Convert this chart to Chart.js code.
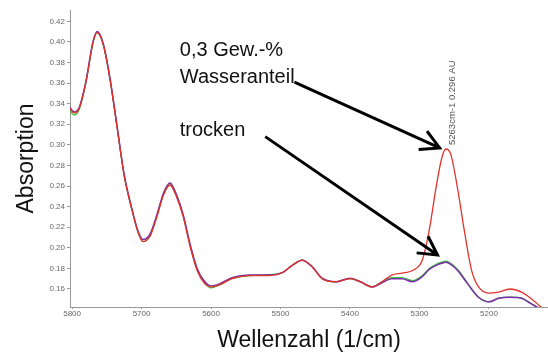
<!DOCTYPE html>
<html>
<head>
<meta charset="utf-8">
<script src="https://cdn.jsdelivr.net/npm/chart.js@4.4.1/dist/chart.umd.min.js"></script>
<style>
  html, body { margin: 0; padding: 0; background: #fff; }
</style>
</head>
<body>
<canvas id="spektrum" width="548" height="354"></canvas>
<script>
// Wellenzahlen (1/cm), absteigend wie im Spektrum
const wellenzahl = [5805, 5797, 5790, 5780, 5770, 5764, 5755, 5745, 5735, 5725, 5715, 5705, 5698, 5688, 5678, 5668, 5659, 5650, 5640, 5630,
    5620, 5610, 5600, 5588, 5570, 5545, 5515, 5497, 5483, 5469, 5455, 5440, 5420, 5400, 5385, 5368, 5354, 5340, 5325, 5310,
    5296, 5286, 5276, 5268, 5262, 5255, 5245, 5235, 5225, 5215, 5200, 5186, 5170, 5153, 5140, 5125, 5115];

// Absorption, trockene Probe (zwei Messungen)
const trocken = [0.338, 0.332, 0.336, 0.362, 0.400, 0.410, 0.398, 0.363, 0.317, 0.271, 0.241, 0.216, 0.208, 0.213, 0.232, 0.254, 0.263, 0.252, 0.232, 0.203,
    0.180, 0.168, 0.163, 0.165, 0.171, 0.1735, 0.1735, 0.176, 0.183, 0.188, 0.182, 0.1705, 0.167, 0.1705, 0.167, 0.162, 0.166, 0.170, 0.170, 0.167,
    0.172, 0.179, 0.183, 0.185, 0.186, 0.184, 0.178, 0.169, 0.160, 0.152, 0.1475, 0.151, 0.152, 0.151, 0.146, 0.140, 0.135];
const trocken2 = [0.335, 0.329, 0.334, 0.361, 0.399, 0.409, 0.397, 0.362, 0.316, 0.270, 0.240, 0.215, 0.206, 0.212, 0.231, 0.253, 0.261, 0.251, 0.231, 0.202,
    0.179, 0.167, 0.161, 0.164, 0.170, 0.173, 0.174, 0.176, 0.183, 0.188, 0.182, 0.170, 0.167, 0.170, 0.167, 0.162, 0.167, 0.171, 0.171, 0.168,
    0.173, 0.180, 0.184, 0.186, 0.187, 0.185, 0.179, 0.170, 0.160, 0.152, 0.1475, 0.151, 0.152, 0.151, 0.146, 0.140, 0.135];

// Absorption, Probe mit 0,3 Gew.-% Wasser
const wasser = [0.337, 0.331, 0.335, 0.361, 0.399, 0.409, 0.397, 0.362, 0.316, 0.270, 0.240, 0.215, 0.206, 0.211, 0.230, 0.252, 0.261, 0.250, 0.230, 0.201,
    0.178, 0.166, 0.162, 0.164, 0.170, 0.173, 0.173, 0.176, 0.183, 0.188, 0.182, 0.170, 0.167, 0.170, 0.167, 0.162, 0.167, 0.1735, 0.1755, 0.178,
    0.188, 0.217, 0.259, 0.287, 0.296, 0.291, 0.257, 0.215, 0.178, 0.162, 0.156, 0.157, 0.160, 0.157, 0.151, 0.1425, 0.137];

const xTicks = [5800, 5700, 5600, 5500, 5400, 5300, 5200];
const yTicks = [0.16, 0.18, 0.20, 0.22, 0.24, 0.26, 0.28, 0.30, 0.32, 0.34, 0.36, 0.38, 0.40, 0.42];

const schrift = "'Liberation Sans', Arial, sans-serif";

function punkte(werte) {
    return wellenzahl.map((w, i) => ({ x: w, y: werte[i] }));
}

function pfeil(ctx, x1, y1, x2, y2) {
    const winkel = Math.atan2(y2 - y1, x2 - x1);
    const kopf = 21;
    ctx.beginPath();
    ctx.moveTo(x1, y1);
    ctx.lineTo(x2, y2);
    ctx.moveTo(x2 - kopf * Math.cos(winkel - 0.5), y2 - kopf * Math.sin(winkel - 0.5));
    ctx.lineTo(x2, y2);
    ctx.lineTo(x2 - kopf * Math.cos(winkel + 0.5), y2 - kopf * Math.sin(winkel + 0.5));
    ctx.stroke();
}

// Beschriftungen und Pfeile im Diagramm
const beschriftung = {
    id: "beschriftung",
    afterDatasetsDraw(chart) {
        const ctx = chart.ctx;
        const sx = chart.scales.x;
        const sy = chart.scales.y;
        ctx.save();
        ctx.fillStyle = "#111";
        ctx.font = "20px " + schrift;
        ctx.textBaseline = "alphabetic";
        ctx.fillText("0,3 Gew.-%", sx.getPixelForValue(5645), sy.getPixelForValue(0.386));
        ctx.fillText("Wasseranteil", sx.getPixelForValue(5645), sy.getPixelForValue(0.360));
        ctx.fillText("trocken", sx.getPixelForValue(5645), sy.getPixelForValue(0.3085));

        ctx.strokeStyle = "#000";
        ctx.lineWidth = 3;
        pfeil(ctx, sx.getPixelForValue(5480), sy.getPixelForValue(0.361), sx.getPixelForValue(5271), sy.getPixelForValue(0.297));
        pfeil(ctx, sx.getPixelForValue(5522), sy.getPixelForValue(0.308), sx.getPixelForValue(5274), sy.getPixelForValue(0.193));

        // Peakmarke
        ctx.translate(sx.getPixelForValue(5252), sy.getPixelForValue(0.296) - 4);
        ctx.rotate(-Math.PI / 2);
        ctx.font = "9.5px " + schrift;
        ctx.fillStyle = "#555";
        ctx.textBaseline = "middle";
        ctx.fillText("5263cm-1 0.296 AU", 0, 0);
        ctx.restore();
    }
};

const config = {
    type: "line",
    data: {
        datasets: [
            { label: "0,3 Gew.-% Wasser", data: punkte(wasser), borderColor: "#e3342c", borderWidth: 1.3 },
            { label: "trocken", data: punkte(trocken), borderColor: "#7a2fa8", borderWidth: 1.5 },
            { label: "trocken 2", data: punkte(trocken2), borderColor: "#3cc03c", borderWidth: 1.3 },
        ],
    },
    options: {
        responsive: false,
        animation: false,
        layout: { padding: { top: 10, left: 0, right: 0, bottom: 0 } },
        elements: {
            point: { radius: 0 },
            line: { cubicInterpolationMode: "monotone", fill: false },
        },
        plugins: { legend: { display: false }, tooltip: { enabled: false } },
        scales: {
            x: {
                type: "linear",
                reverse: true,
                min: 5115,
                max: 5803,
                afterBuildTicks: s => { s.ticks = xTicks.map(v => ({ value: v })); },
                afterFit: s => { s.height = 47; },
                ticks: { color: "#666", font: { size: 8, family: schrift }, padding: 0, maxRotation: 0, callback: v => String(v) },
                grid: { drawOnChartArea: false, tickLength: 2, color: "#999" },
                border: { color: "#999" },
                title: { display: true, text: "Wellenzahl (1/cm)", color: "#111", font: { size: 23, family: schrift }, padding: { top: 0, bottom: 0 } },
            },
            y: {
                min: 0.1425,
                max: 0.431,
                afterBuildTicks: s => { s.ticks = yTicks.map(v => ({ value: v })); },
                afterFit: s => { s.width = 70; },
                ticks: { color: "#666", font: { size: 8, family: schrift }, padding: 2, callback: v => v.toFixed(2) },
                grid: { drawOnChartArea: false, tickLength: 3, color: "#999" },
                border: { color: "#999" },
                title: { display: true, text: "Absorption", color: "#111", font: { size: 23, family: schrift }, padding: { top: 13, bottom: 0 } },
            },
        },
    },
    plugins: [beschriftung],
};

new Chart(document.querySelector("#spektrum"), config);
</script>
</body>
</html>
